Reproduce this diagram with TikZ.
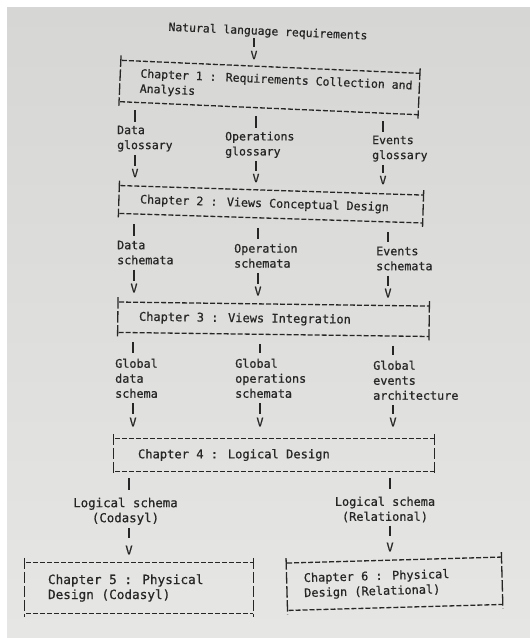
\documentclass[tikz,border=0pt]{standalone}
\usepackage{fontspec}
\newfontfamily\printerfont[FakeBold=0.6]{DejaVu Sans Mono}
\usetikzlibrary{calc}

\definecolor{ink}{RGB}{38,38,38}
\definecolor{paperTop}{RGB}{214,214,212}
\definecolor{paperBottom}{RGB}{230,230,228}

\tikzset{
  every node/.style={inner sep=0pt, text=ink},
  % printer font at a given size (perspective makes lower rows a bit larger)
  listing/.style={font=\printerfont\fontsize{#1}{15pt}\selectfont},
  listing/.default=11.6pt,
  flowlabel/.style={listing=#1, anchor=north west, align=left},
  flowlabel/.default=11.6pt,
  flowlabelc/.style={listing=#1, anchor=north, align=center},
  flowlabelc/.default=11.6pt,
  vhead/.style={listing=#1, anchor=center},
  vhead/.default=11.6pt,
  chapbox/.style={listing=#1, align=left, inner ysep=0pt,
    execute at begin node={\spaceskip=0pt\xspaceskip=0pt\relax}},
  chapbox/.default=11.6pt,
  dashrule/.style={draw=ink, line width=1.3pt, dash pattern=on 5pt off 2pt, dash phase=6pt},
  siderule/.style={draw=ink, line width=1.3pt, dash pattern=on 11.5pt off 2.5pt},
  bar/.style={draw=ink, line width=1.3pt},
  dropbar/.style 2 args={bar, shorten <=#1, shorten >=#2},
}

% dashed top/bottom rules and barred sides of a chapter box
\newcommand\chapframe[1]{%
  \draw[dashrule] (#1.north west) -- (#1.north east);
  \draw[dashrule] (#1.south west) -- (#1.south east);
  \draw[siderule] ($(#1.north west)!-5pt!(#1.south west)$) -- ($(#1.south west)!-4pt!(#1.north west)$);
  \draw[siderule] ($(#1.north east)!-5pt!(#1.south east)$) -- ($(#1.south east)!-4pt!(#1.north east)$);}

% bar from the bottom rule of a box (#1) down to a label (#3), in the column of V node #2
\newcommand\boxdrop[5]{%
  \draw[dropbar={#4}{#5}]
    (perpendicular cs: horizontal line through={($(#1.south west)!(#2)!(#1.south east)$)},
                       vertical line through={(#2)})
    -- (#3.north -| #2);}

% bar from a label (#1) down to its V head (#2)
\newcommand\headdrop[4]{%
  \draw[dropbar={#3}{#4}] (#1.south -| #2) -- (#2.north);}

\begin{document}
\begin{tikzpicture}[x=1pt,y=-1pt]
\useasboundingbox (0,0) rectangle (530,638);
\fill[white] (0,0) rectangle (530,638);
\shade[top color=paperTop, bottom color=paperBottom] (7,7) rectangle (530,638);

% ---- requirements and chapter 1
\node[listing=11.4pt, rotate=-2.5] (req) at (268,32) {Natural language requirements};
\node[vhead=11.4pt] (v0) at (254,55) {V};
\node[chapbox=11.5pt, minimum width=299pt, text width=259pt, inner xsep=20pt,
      minimum height=41pt, rotate=-2.5] (b1) at (269.5,87.5)
  {\mbox{Chapter 1 : Requirements Collection and}\\Analysis};

% ---- glossaries
\node[flowlabel=11.5pt] (dg) at (117,125.5) {Data\\glossary};
\node[flowlabel=11.5pt] (og) at (225,131.5) {Operations\\glossary};
\node[flowlabel=11.5pt] (eg) at (372,135.5) {Events\\glossary};
\node[vhead=11.5pt] (vA1) at (135,173) {V};
\node[vhead=11.5pt] (vB1) at (256,178) {V};
\node[vhead=11.5pt] (vC1) at (383,180) {V};

% ---- chapter 2
\node[chapbox=11.7pt, minimum width=304pt, text width=262pt, inner xsep=21pt,
      minimum height=27.5pt, rotate=-1.8] (b2) at (271,204.25)
  {Chapter 2 : Views Conceptual Design};

% ---- schemata
\node[flowlabel=11.7pt] (ds) at (117,240.5) {Data\\schemata};
\node[flowlabel=11.7pt] (os) at (234,243.5) {Operation\\schemata};
\node[flowlabel=11.7pt] (es) at (376,246.5) {Events\\schemata};
\node[vhead=11.7pt] (vA2) at (134,288) {V};
\node[vhead=11.7pt] (vB2) at (258,291) {V};
\node[vhead=11.7pt] (vC2) at (388,293) {V};

% ---- chapter 3
\node[chapbox=12pt, minimum width=311pt, text width=269pt, inner xsep=21pt,
      minimum height=30pt, rotate=-0.75] (b3) at (273.5,319.25)
  {Chapter 3 : Views Integration};

% ---- global schemata
\node[flowlabel=11.8pt] (gd) at (115,358.5) {Global\\data\\schema};
\node[flowlabel=11.8pt] (go) at (235,358.5) {Global\\operations\\schemata};
\node[flowlabel=11.8pt] (ge) at (373,360.5) {Global\\events\\architecture};
\node[vhead=11.8pt] (vA3) at (133,422) {V};
\node[vhead=11.8pt] (vB3) at (260,422) {V};
\node[vhead=11.8pt] (vC3) at (393,422) {V};

% ---- chapter 4
\node[chapbox=12.1pt, minimum width=320pt, text width=272pt, inner xsep=24pt,
      minimum height=32pt] (b4) at (274,455)
  {Chapter 4 : Logical Design};

% ---- logical schemata
\node[flowlabelc=12.4pt] (lc) at (125.5,497.5) {Logical schema\\(Codasyl)};
\node[flowlabelc=11.9pt] (lr) at (385,496.5) {Logical schema\\(Relational)};
\node[vhead=12.2pt] (vL) at (129,550) {V};
\node[vhead=11.9pt] (vR) at (390,547) {V};

% ---- chapters 5 and 6
\node[chapbox=12.7pt, minimum width=228pt, text width=182pt, inner xsep=23pt,
      minimum height=50pt] (b5) at (139,588)
  {Chapter 5 : Physical\\Design (Codasyl)};
\node[chapbox=11.9pt, minimum width=215pt, text width=181pt, inner xsep=17pt,
      minimum height=47pt, rotate=1.6] (b6) at (394.5,583.75)
  {Chapter 6 : Physical\\Design (Relational)};

% ---- box frames
\chapframe{b1}
\chapframe{b2}
\chapframe{b3}
\chapframe{b4}
\chapframe{b5}
\chapframe{b6}

% ---- connectors
\headdrop{req}{v0}{0.5pt}{3.5pt}

\boxdrop{b1}{vA1}{dg}{8pt}{3.5pt}
\boxdrop{b1}{vB1}{og}{8pt}{3.5pt}
\boxdrop{b1}{vC1}{eg}{8pt}{3.5pt}
\headdrop{dg}{vA1}{3pt}{3pt}
\headdrop{og}{vB1}{3pt}{3pt}
\headdrop{eg}{vC1}{3pt}{3pt}

\boxdrop{b2}{vA2}{ds}{10pt}{5pt}
\boxdrop{b2}{vB2}{os}{10pt}{5pt}
\boxdrop{b2}{vC2}{es}{10pt}{5pt}
\headdrop{ds}{vA2}{5pt}{3pt}
\headdrop{os}{vB2}{5pt}{3pt}
\headdrop{es}{vC2}{5pt}{3pt}

\boxdrop{b3}{vA3}{gd}{9.5pt}{6pt}
\boxdrop{b3}{vB3}{go}{9.5pt}{6pt}
\boxdrop{b3}{vC3}{ge}{9.5pt}{6pt}
\headdrop{gd}{vA3}{5pt}{4pt}
\headdrop{go}{vB3}{5pt}{4pt}
\headdrop{ge}{vC3}{5pt}{4pt}

\boxdrop{b4}{vL}{lc}{7pt}{8pt}
\boxdrop{b4}{vR}{lr}{7pt}{8pt}
\headdrop{lc}{vL}{3pt}{7pt}
\headdrop{lr}{vR}{3pt}{6pt}
\end{tikzpicture}
\end{document}
